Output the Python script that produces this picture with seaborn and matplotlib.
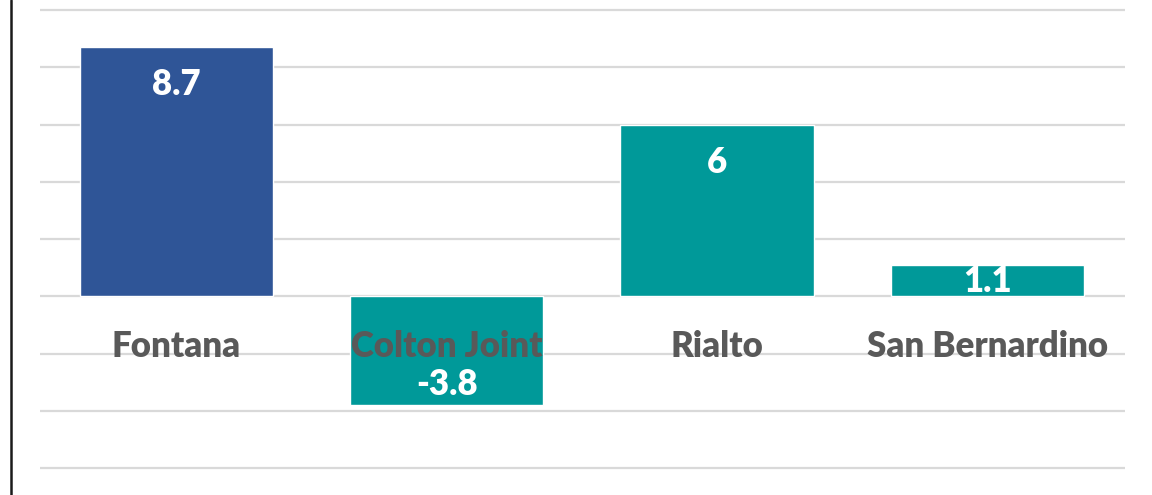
import numpy as np
import pandas as pd
import matplotlib
matplotlib.use("Agg")
import matplotlib.pyplot as plt
import seaborn as sns
from matplotlib.lines import Line2D

# data
districts = ["Fontana", "Colton Joint", "Rialto", "San Bernardino"]
values = [8.7, -3.8, 6, 1.1]
bar_colors = ["#2F5597", "#009999", "#009999", "#009999"]
value_labels = ["8.7", "-3.8", "6", "1.1"]

sns.set_theme(style="white")
plt.rcParams["font.family"] = ["Lato", "DejaVu Sans"]

df = pd.DataFrame({"district": districts, "value": values})

fig = plt.figure(figsize=(11.52, 4.95), dpi=100)
ax = fig.add_axes([40 / 1152, 0, 1085 / 1152, 1])

sns.barplot(data=df, x="district", y="value", hue="district",
            palette=bar_colors, width=0.715, saturation=1,
            legend=False, ax=ax, zorder=3)

ax.set_ylim(-6.94, 10.35)
ax.set_xlim(-0.505, 3.51)
ax.set_yticks(np.arange(-6, 11, 2))
ax.yaxis.grid(True, color="#D9D9D9", linewidth=1.6, zorder=0)
ax.set_axisbelow(True)
ax.tick_params(left=False, bottom=False, labelleft=False, labelbottom=False)
for s in ax.spines.values():
    s.set_visible(False)
ax.set_xlabel("")
ax.set_ylabel("")

px_per_unit = 495 / (10.35 + 6.94)

# category names sit just below the zero line
for i, name in enumerate(districts):
    ax.text(i, -61 / px_per_unit, name, ha="center", va="baseline",
            fontsize=25, fontweight="heavy", color="#595959", zorder=5)

# value labels inside the bar ends
for i, (v, lab) in enumerate(zip(values, value_labels)):
    bar_px = abs(v) * px_per_unit
    if v >= 0:
        off = min(48, bar_px / 2 + 11.5)
        y = v - off / px_per_unit
    else:
        y = v + 10 / px_per_unit
    ax.text(i, y, lab, ha="center", va="baseline", fontsize=25,
            fontweight="heavy", color="white", zorder=6)

fig.add_artist(Line2D([11 / 1152, 11 / 1152], [0, 1], color="#1a1a1a",
                      linewidth=1.8, transform=fig.transFigure))

fig.savefig("out.png", dpi=100)
